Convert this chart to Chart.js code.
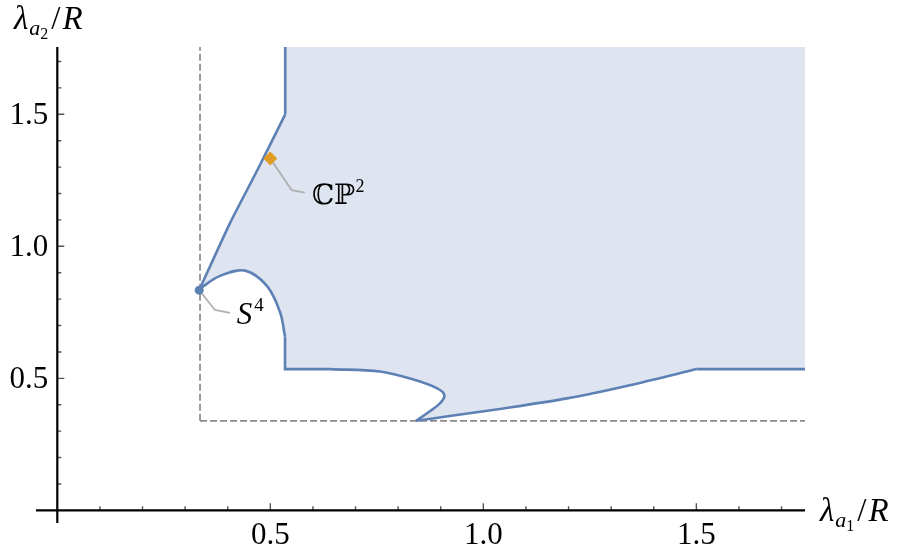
<!DOCTYPE html>
<html lang="en">
<head>
<meta charset="UTF-8">
<title>Lambda region</title>
<script src="https://cdn.jsdelivr.net/npm/chart.js@4.4.0/dist/chart.umd.min.js"></script>
<style>
  body { margin: 0; background: #fff; }
  #wrap { width: 912px; height: 554px; }
</style>
</head>
<body>
<div id="wrap"><canvas id="myChart" width="912" height="554"></canvas></div>
<script>
// plot range (axes cross at 0)
const xRange = [-0.05, 1.755];
const yRange = [-0.048, 1.755];
const tickValues = [0.1, 0.2, 0.3, 0.4, 0.5, 0.6, 0.7, 0.8, 0.9, 1.0, 1.1, 1.2, 1.3, 1.4, 1.5, 1.6, 1.7];
const majorTicks = [0.5, 1.0, 1.5];
const tickLabels = ['0.5', '1.0', '1.5'];

// boundary of the shaded region, piece by piece
const topEdge = [[0.535, 1.755], [0.535, 1.5]];
const upperCurve = [[0.535, 1.5], [0.47, 1.29], [0.405, 1.087], [0.333, 0.834]];
const lobe = [[0.333, 0.834], [0.343, 0.849], [0.382, 0.888], [0.441, 0.908], [0.492, 0.85], [0.523, 0.75], [0.5345, 0.658]];
const stepEdge = [[0.5345, 0.658], [0.5345, 0.535], [0.64, 0.535]];
const bottomLoop = [[0.64, 0.535], [0.7575, 0.526], [0.836, 0.4955], [0.8906, 0.463], [0.9085, 0.437], [0.898, 0.405], [0.867, 0.367], [0.842, 0.339]];
const risingCurve = [[0.842, 0.339], [0.921, 0.357], [1.039, 0.384], [1.196, 0.424], [1.352, 0.477], [1.501, 0.535]];
const rightEdge = [[1.501, 0.535], [1.755, 0.535]];
const farCorner = [[1.755, 1.755]];

// dashed bounds
const dashV = [[0.335, 0.339], [0.335, 1.755]];
const dashH = [[0.335, 0.339], [1.755, 0.339]];

// special points + callouts
const s4Point = [[0.333, 0.834]];
const cp2Point = [[0.5, 1.333]];
const s4Leader = [[0.333, 0.834], [0.370, 0.759], [0.405, 0.748]];
const cp2Leader = [[0.5, 1.333], [0.550, 1.213], [0.581, 1.203]];
const s4LabelAt = [0.421, 0.743];
const cp2LabelAt = [0.598, 1.197];

const blue = '#5E81B5';
const serif = '"Liberation Serif", "DejaVu Serif", serif';

function pts(arr) { return arr.map(p => ({x: p[0], y: p[1]})); }

const regionPts = [].concat(topEdge, upperCurve.slice(1), lobe.slice(1), stepEdge.slice(1),
  bottomLoop.slice(1), risingCurve.slice(1), rightEdge.slice(1), farCorner);

function edge(arr, tension) {
  return { data: pts(arr), showLine: true, borderColor: blue, borderWidth: 2.6,
    pointRadius: 0, tension: tension, fill: false, order: 2 };
}

// draws text made of pieces (sub/superscripts)
function drawPieces(ctx, x, y, pieces) {
  pieces.forEach(p => {
    ctx.font = p.font;
    ctx.fillText(p.t, x, y + (p.dy || 0));
    x += ctx.measureText(p.t).width + (p.gap || 0);
  });
}

const axesPlugin = {
  id: 'axesPlugin',
  afterDraw(chart) {
    const {ctx, chartArea: a, scales: {x, y}} = chart;
    const x0 = x.getPixelForValue(0), y0 = y.getPixelForValue(0);
    ctx.save();
    // ticks
    ctx.strokeStyle = '#555';
    ctx.lineWidth = 1.4;
    ctx.beginPath();
    tickValues.forEach(v => {
      const len = majorTicks.includes(v) ? 7 : 4;
      const px = x.getPixelForValue(v);
      ctx.moveTo(px, y0); ctx.lineTo(px, y0 - len);
      const py = y.getPixelForValue(v);
      ctx.moveTo(x0, py); ctx.lineTo(x0 + len, py);
    });
    ctx.stroke();
    // axis lines
    ctx.strokeStyle = '#000';
    ctx.lineWidth = 2.2;
    ctx.beginPath();
    ctx.moveTo(a.left, y0); ctx.lineTo(a.right, y0);
    ctx.moveTo(x0, a.top); ctx.lineTo(x0, a.bottom);
    ctx.stroke();
    // tick labels
    ctx.fillStyle = '#000';
    ctx.font = '31px ' + serif;
    majorTicks.forEach((v, i) => {
      ctx.textAlign = 'center';
      ctx.textBaseline = 'alphabetic';
      ctx.fillText(tickLabels[i], x.getPixelForValue(v), y0 + 34);
      ctx.textAlign = 'right';
      ctx.fillText(tickLabels[i], x0 - 9, y.getPixelForValue(v) + 10);
    });
    // axis titles
    ctx.textAlign = 'left';
    const title = sub => [
      {t: 'λ', font: 'italic 33px ' + serif, gap: 1},
      {t: 'a', font: 'italic 22px ' + serif, dy: 6},
      {t: sub, font: '16px ' + serif, dy: 10, gap: 3},
      {t: '/', font: '33px ' + serif, gap: 2},
      {t: 'R', font: 'italic 33px ' + serif}
    ];
    drawPieces(ctx, a.right + 15, y0 + 11, title('1'));
    drawPieces(ctx, 14, 29, title('2'));
    // callout labels
    drawPieces(ctx, x.getPixelForValue(cp2LabelAt[0]), y.getPixelForValue(cp2LabelAt[1]) + 10, [
      {t: 'ℂℙ', font: '28px "DejaVu Serif", serif'},
      {t: '2', font: '18px ' + serif, dy: -12}
    ]);
    drawPieces(ctx, x.getPixelForValue(s4LabelAt[0]), y.getPixelForValue(s4LabelAt[1]) + 10, [
      {t: 'S', font: 'italic 31px ' + serif, gap: 2},
      {t: '4', font: '19px ' + serif, dy: -13}
    ]);
    ctx.restore();
  }
};

const ctx = document.getElementById('myChart').getContext('2d');
new Chart(ctx, {
  type: 'scatter',
  data: {
    datasets: [
      { data: pts(cp2Point), pointStyle: 'rectRot', pointRadius: 7, backgroundColor: '#E19C24',
        borderWidth: 0, order: 0 },
      { data: pts(s4Point), pointStyle: 'circle', pointRadius: 4.5, backgroundColor: blue,
        borderWidth: 0, order: 0 },
      { data: pts(cp2Leader), showLine: true, borderColor: '#b0b0b0', borderWidth: 1.8,
        pointRadius: 0, order: 1 },
      { data: pts(s4Leader), showLine: true, borderColor: '#b0b0b0', borderWidth: 1.8,
        pointRadius: 0, order: 1 },
      edge(topEdge, 0),
      edge(upperCurve, 0.15),
      edge(lobe, 0.35),
      edge(stepEdge, 0),
      edge(bottomLoop, 0.35),
      edge(risingCurve, 0.3),
      edge(rightEdge, 0),
      { data: pts(dashV), showLine: true, borderColor: '#8a8a8a', borderWidth: 1.7,
        borderDash: [7, 3], pointRadius: 0, order: 4 },
      { data: pts(dashH), showLine: true, borderColor: '#8a8a8a', borderWidth: 1.7,
        borderDash: [7, 3], pointRadius: 0, order: 4 },
      { data: pts(regionPts), showLine: true, borderWidth: 0, borderColor: 'rgba(0,0,0,0)',
        backgroundColor: '#DEE4F0', fill: 'shape', pointRadius: 0, tension: 0, order: 5 }
    ]
  },
  options: {
    responsive: false,
    devicePixelRatio: 1,
    animation: false,
    events: [],
    layout: { padding: { left: 36, right: 107, top: 47, bottom: 31 } },
    plugins: { legend: { display: false }, tooltip: { enabled: false } },
    scales: {
      x: { type: 'linear', min: xRange[0], max: xRange[1], display: false },
      y: { type: 'linear', min: yRange[0], max: yRange[1], display: false }
    }
  },
  plugins: [axesPlugin]
});
</script>
</body>
</html>
